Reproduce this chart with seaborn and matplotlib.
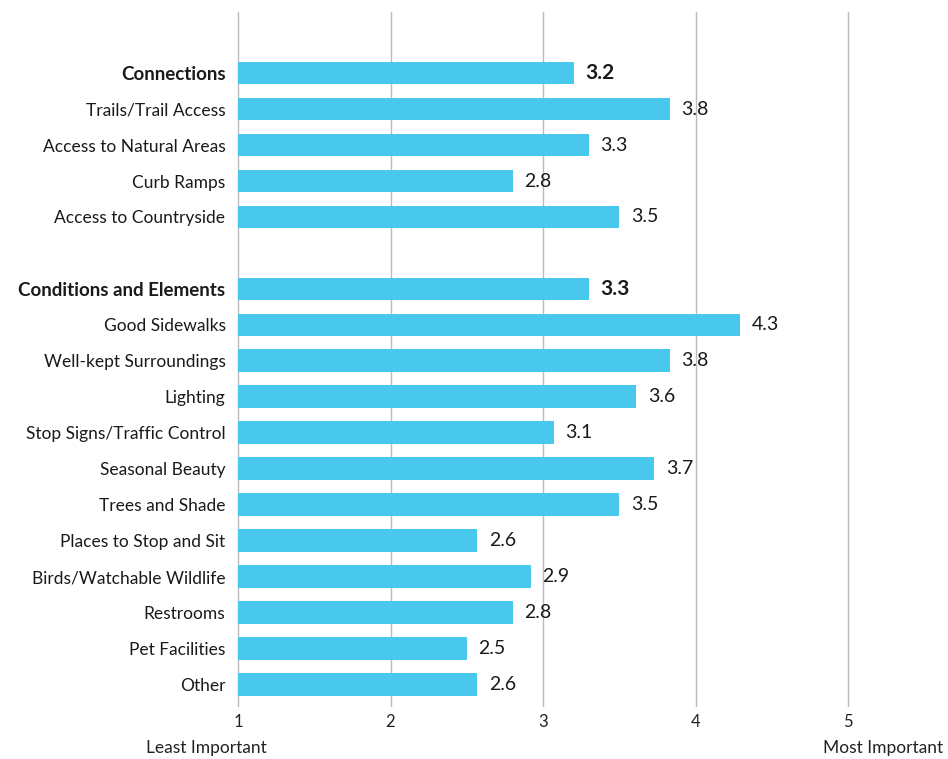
import matplotlib
matplotlib.use("Agg")
import matplotlib.pyplot as plt
import seaborn as sns
import pandas as pd
import numpy as np

categories = ["Connections", "Trails/Trail Access", "Access to Natural Areas", "Curb Ramps",
              "Access to Countryside", " ",
              "Conditions and Elements", "Good Sidewalks", "Well-kept Surroundings", "Lighting",
              "Stop Signs/Traffic Control", "Seasonal Beauty", "Trees and Shade",
              "Places to Stop and Sit", "Birds/Watchable Wildlife", "Restrooms",
              "Pet Facilities", "Other"]
scores = [3.20, 3.83, 3.30, 2.80, 3.50, np.nan,
          3.30, 4.29, 3.83, 3.61, 3.07, 3.73, 3.50, 2.57, 2.92, 2.80, 2.50, 2.57]
headers = ["Connections", "Conditions and Elements"]
xticks = [1, 2, 3, 4, 5]
axis_left_label = "Least Important"
axis_right_label = "Most Important"

df = pd.DataFrame({"category": categories, "score": scores})

sns.set_theme(style="white")
plt.rcParams["font.family"] = ["Lato", "DejaVu Sans"]

fig = plt.figure(figsize=(9.48, 7.59), dpi=100)
ax = fig.add_axes([238 / 948, 1 - 706 / 759, (848 - 238) / 948, (706 - 12) / 759])

sns.barplot(data=df, y="category", x="score", order=categories, color="#48C8EC",
            saturation=1, width=0.63, ax=ax, zorder=2, linewidth=0)

ax.set_xlim(1, 5)
ax.set_ylim(17.6, -1.7)
ax.set_xticks(xticks)
ax.set_xticklabels([str(t) for t in xticks], fontsize=12, color="#222222")
ax.xaxis.grid(True, color="#BBBBBB", linewidth=1, zorder=0)
ax.yaxis.grid(False)
ax.set_axisbelow(True)
for gl in ax.get_xgridlines():
    gl.set_clip_on(False)
for s in ax.spines.values():
    s.set_visible(False)
ax.tick_params(axis="x", length=0, pad=6)
ax.tick_params(axis="y", length=0, pad=9)
ax.set_xlabel("")
ax.set_ylabel("")

for lbl in ax.get_yticklabels():
    txt = lbl.get_text()
    if txt in headers:
        lbl.set_fontweight("bold")
        lbl.set_fontsize(13.5)
    else:
        lbl.set_fontsize(12.5)
    lbl.set_color("#1a1a1a")

for i, (cat, v) in enumerate(zip(categories, scores)):
    if np.isnan(v):
        continue
    bold = cat in headers
    ax.annotate(f"{v:.1f}", xy=(v, i), xytext=(8.5, 0), textcoords="offset points",
                va="center", ha="left", fontsize=15 if bold else 14,
                fontweight="bold" if bold else "normal", color="#1a1a1a", zorder=3)

fig.text(206 / 948, 1 - 748 / 759, axis_left_label, ha="center", va="center",
         fontsize=12.5, color="#222222")
fig.text(883 / 948, 1 - 748 / 759, axis_right_label, ha="center", va="center",
         fontsize=12.5, color="#222222")

fig.savefig("out.png", dpi=100)
